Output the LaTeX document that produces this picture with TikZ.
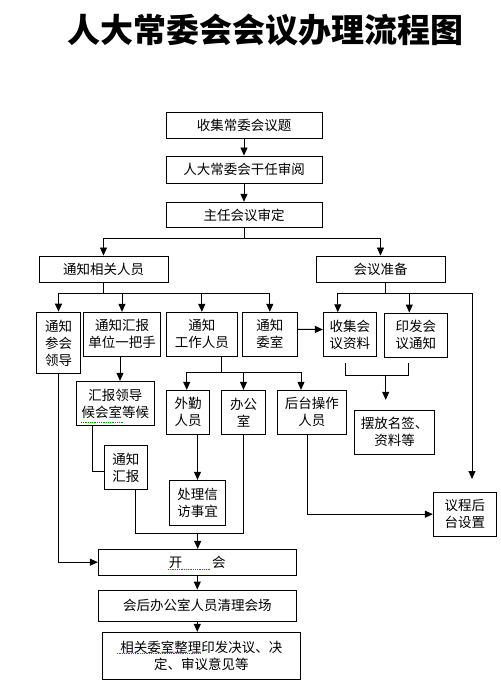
\documentclass[tikz,border=0pt]{standalone}
\usepackage{fontspec}
\setmainfont{Noto Sans CJK SC}
\usetikzlibrary{arrows.meta}
\tikzstyle{box}=[draw,line width=0.9pt,inner sep=0pt,align=center,font=\fontsize{13.5}{17}\selectfont]
\tikzstyle{edge}=[draw,line width=0.9pt,-{Triangle[length=8pt,width=7pt]}]
\tikzstyle{line}=[draw,line width=0.9pt]
\tikzstyle{wavy}=[draw,green!60!black,densely dotted,line width=0.8pt]

\begin{document}
\begin{tikzpicture}[x=1pt,y=-1pt]
	\useasboundingbox (0,0) rectangle (500,700);
	\node[font=\fontsize{33}{33}\selectfont\bfseries] (title) at (265,30) {人大常委会会议办理流程图};
	
	\foreach \pos/\w/\h/\name/\txt in {{(244,125)/156/26/ti/收集常委会议题},{(244,169.5)/156/27/sh/人大常委会干任审阅},{(244,215)/156/25.5/sd/主任会议审定},{(103.5,269)/129/26/tz/通知相关人员},{(380.5,269)/129/26/zb/会议准备}}
	\node[box,minimum width=\w pt,minimum height=\h pt] (\name) at \pos {\txt};
	\foreach \pos/\w/\h/\name/\txt in {{(58.5,343)/44.4/61.7/ld/{通知\\参会\\领导}},{(122,334.3)/77.4/44/dw/{通知汇报\\单位一把手}},{(201.8,334.3)/71/44/gz/{通知\\工作人员}},{(269.8,334.3)/55/44/ws/{通知\\委室}},{(349.8,334.5)/53/43.6/zl/{收集会\\议资料}},{(415.8,335)/62.3/44/tzh/{印发会\\议通知}}}
	\node[box,minimum width=\w pt,minimum height=\h pt] (\name) at \pos {\txt};
	\foreach \pos/\w/\h/\name/\txt in {{(115.3,403.5)/78/44.4/hb/{汇报领导\\候会室等候}},{(188,412.3)/43.4/44/wq/{外勤\\人员}},{(243.5,412.3)/44.4/44/bgs/{办公\\室}},{(311.8,412.3)/69/44/ht/{后台操作\\人员}},{(394.5,432.3)/80.4/44/mq/{摆放名签、\\资料等}},{(125.8,467.5)/43/44.4/hbt/{通知\\汇报}},{(197.5,502.8)/55.6/45/xf/{处理信\\访事宜}},{(464.8,514.2)/63/43.7/yc/{议程后\\台设置}}}
	\node[box,minimum width=\w pt,minimum height=\h pt] (\name) at \pos {\txt};
	\foreach \pos/\w/\h/\name/\txt in {{(197.3,562.2)/198/25.7/kh/{开\hspace{2.2em}会}},{(197.3,605.5)/198/31/ql/会后办公室人员清理会场},{(201.3,655.8)/198/47/jy/{相关委室整理印发决议、决\\定、审议意见等}}}
	\node[box,minimum width=\w pt,minimum height=\h pt] (\name) at \pos {\txt};
	
	\foreach \source/\dest in {ti/sh,sh/sd,kh/ql,ql/jy}
	\draw[edge] (\source.south) -- (\source.south |- \dest.north);
	
	\path (244,238) coordinate (s1);
	\path (103.5,293) coordinate (t1);
	\path (385.7,293) coordinate (z1);
	\path (472,479) coordinate (r1);
	\path (221.3,372) coordinate (g1);
	\path (345.3,363) coordinate (m0);
	\path (385.7,375.3) coordinate (m1);
	\path (408.7,363) coordinate (m2);
	\path (197.7,533.3) coordinate (k1);
	
	\draw[line] (sd) -- (s1);
	\draw[edge] (s1) -| (tz);
	\draw[edge] (s1) -| (zb);
	\draw[line] (tz) -- (t1);
	\foreach \dest in {ld,dw,gz,ws}
	\draw[edge] (t1) -| (\dest);
	\draw[line] (z1 |- zb.south) -- (z1);
	\draw[edge] (z1) -| ([xshift=-12]zl.north);
	\draw[edge] (z1) -| ([xshift=-6.5]tzh.north);
	\draw[edge] (z1) -| (r1);
	\draw[edge] ([yshift=5]ws.east) -- ([yshift=5]zl.west);
	\draw[edge] ([xshift=-2]dw.south) -- ([xshift=-2]dw.south |- hb.north);
	\draw[line] (g1 |- gz.south) -- (g1);
	\draw[edge] (g1) -| ([xshift=-1.3]wq.north);
	\draw[edge] (g1) -| (bgs);
	\draw[edge] (g1) -| ([xshift=-10.8]ht.north);
	\draw[line] (m0) |- (m1) -| (m2);
	\draw[edge] (m1) -- ([yshift=10]mq.north -| m1);
	\draw[edge] (xf.north |- wq.south) -- (xf.north);
	\draw[line] ([xshift=-23]hb.south) |- ([yshift=-4]hbt.west);
	\draw[line] ([xshift=9.5]hbt.south) |- (k1) -| (bgs);
	\draw[edge] (k1) -- (k1 |- kh.north);
	\draw[edge] (ld) |- (kh);
	\draw[edge] ([xshift=-4.8]ht.south) |- (yc);
	
	\draw[wavy] (81,422.3) -- (123.3,422.3);
	\draw[wavy] (168,569.3) -- (210,569.3);
	\draw[wavy] (116.7,653.3) -- (201,653.3);
\end{tikzpicture}
\end{document}
